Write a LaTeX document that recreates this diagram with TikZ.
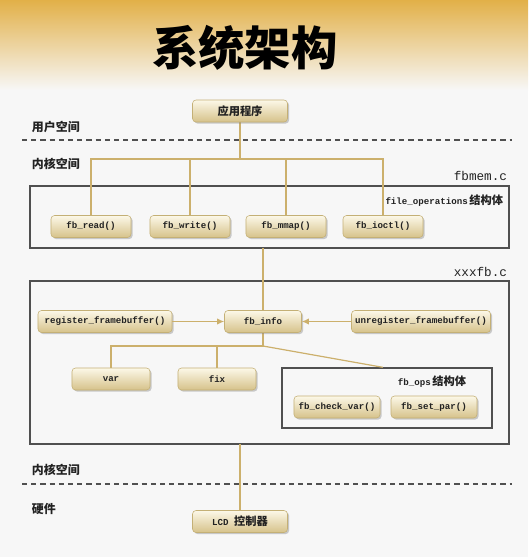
\documentclass[tikz,border=0pt]{standalone}
\usepackage{fontspec}
\setmainfont{Liberation Serif}
\setmonofont{Liberation Mono}
\newfontfamily\cjk{Noto Sans CJK SC}
\usetikzlibrary{arrows.meta,positioning,shadows,calc}
\definecolor{paper}{RGB}{247,247,247}
\definecolor{titletop}{RGB}{226,176,72}
\definecolor{boxtop}{RGB}{252,248,232}
\definecolor{boxbot}{RGB}{214,194,138}
\definecolor{boxedge}{RGB}{196,176,118}
\definecolor{wire}{RGB}{204,176,108}
\definecolor{ink}{RGB}{34,34,34}
\definecolor{frameink}{RGB}{80,80,80}
\newcommand{\hz}[1]{{\cjk\fontsize{8}{9}\selectfont #1}}
\tikzset{
  >={Latex[length=1.8mm,width=1.6mm]},
  func/.style={draw=boxedge,top color=boxtop,bottom color=boxbot,rounded corners=2.5pt,
    minimum width=#1,minimum height=5.5mm,inner sep=1pt,text=ink,
    font=\ttfamily\bfseries\fontsize{6.5}{7}\selectfont,
    drop shadow={shadow xshift=0.4mm,shadow yshift=-0.4mm,opacity=0.4}},
  func/.default=20mm,
  frame/.style={draw=frameink,line width=0.35mm,minimum width=#1,inner sep=0pt},
  wire/.style={draw=wire,line width=0.3mm},
  feed/.style={->,draw=wire,line width=0.3mm,color=wire},
  layer/.style={font=\cjk\bfseries\fontsize{8.5}{9}\selectfont,anchor=west,text=ink},
  file/.style={font=\ttfamily\fontsize{9}{10}\selectfont,anchor=east,text=ink},
  note/.style={font=\ttfamily\bfseries\fontsize{6.5}{7}\selectfont,anchor=east,text=ink},
  border/.style={draw=frameink,line width=0.4mm,dash pattern=on 1.3mm off 1mm},
}
\begin{document}
\begin{tikzpicture}[x=0.25mm,y=-0.25mm]
  \fill[paper] (0,0) rectangle (528,557);
  \shade[top color=titletop,bottom color=paper] (0,0) rectangle (528,90);
  \useasboundingbox (0,0) rectangle (528,557);
  \node[font=\cjk\bfseries\fontsize{33}{34}\selectfont,text=black] (title) at (245,48) {系统架构};

  % user / kernel / hardware layers
  \node[layer] (user) at (27,127) {用户空间};
  \draw[border] (22,140) -- (512,140);
  \node[layer] (kern) at (27,164) {内核空间};
  \node[layer] (kern2) at (27,470) {内核空间};
  \draw[border] (22,484) -- (512,484);
  \node[layer] (hw) at (27,509) {硬件};

  % frames
  \node[frame=119.75mm,minimum height=15.5mm] (fbmem) at (269.5,217) {};
  \node[file] (fbmemc) at (512,176) {fbmem.c};
  \node[note] (fops) at (508,201) {file\_operations\,\hz{结构体}};
  \node[frame=119.75mm,minimum height=40.75mm] (xxxfb) at (269.5,362.5) {};
  \node[file] (xxxfbc) at (512,272) {xxxfb.c};
  \node[frame=52.5mm,minimum height=15mm] (ops) at (387,398) {};
  \node[note] (opsname) at (471,382) {fb\_ops\,\hz{结构体}};

  % wires
  \coordinate (split) at (240,159);
  \coordinate (split2) at (263,346);
  \draw[wire] (split) -- (240,122);
  \foreach \x in {91,190,286,383} \draw[wire] (split) -| (\x,216);
  \draw[wire] (263,248) -- (263,311);
  \draw[wire] (263,333) -- (split2) -| (111,368);
  \draw[wire] (split2) -| (217,368);
  \draw[wire] (split2) -- ($(ops.north west)!0.48!(ops.north east)$);
  \draw[wire] (240,444) -- (240,511);

  % functions
  \node[func=23.75mm] (app) at (240,111) {\hz{应用程序}};
  \foreach \t/\x [count=\i] in {fb\_read()/91,fb\_write()/190,fb\_mmap()/286,fb\_ioctl()/383}
    \node[func] (f\i) at (\x,226.5) {\t};
  \node[func=33.5mm] (reg) at (105,321.5) {register\_framebuffer()};
  \node[func=19.25mm] (info) at (263,321.5) {fb\_info};
  \node[func=34.75mm] (unreg) at (421,321.5) {unregister\_framebuffer()};
  \node[func=19.5mm] (var) at (111,379) {var};
  \node[func=19.5mm] (fix) at (217,379) {fix};
  \node[func=21.5mm] (check) at (337,407) {fb\_check\_var()};
  \node[func=21.5mm] (setpar) at (434,407) {fb\_set\_par()};
  \node[func=23.75mm] (lcd) at (240,521.5) {LCD \hz{控制器}};

  \draw[feed] (reg) -- (info);
  \draw[feed] (unreg) -- (info);
\end{tikzpicture}
\end{document}
